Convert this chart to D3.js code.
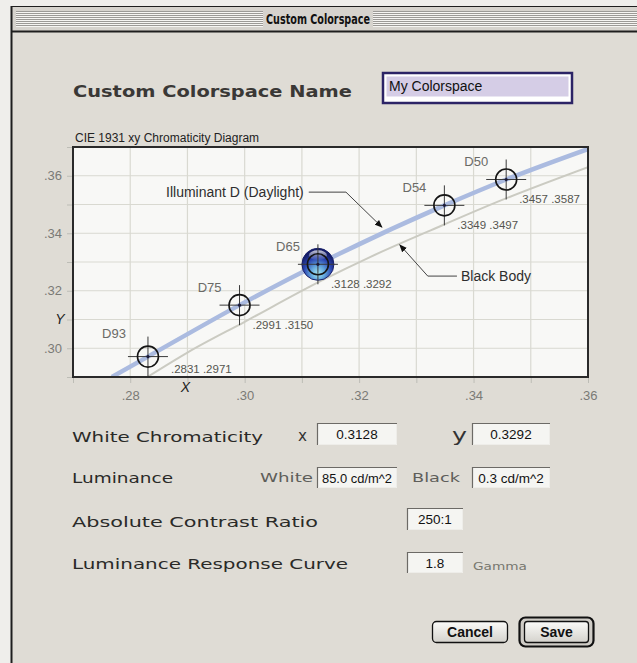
<!DOCTYPE html>
<html><head><meta charset="utf-8">
<script src="https://cdn.jsdelivr.net/npm/d3@7"></script>
<style>
html,body{margin:0;padding:0;background:#efeeeb;}
svg{display:block;}
</style></head><body>
<svg id="c" width="637" height="663"></svg>
<script>
// ---------- data ----------
const illuminantNames = ["D93", "D75", "D65", "D54", "D50"];
const illuminantX = [0.2831, 0.2991, 0.3128, 0.3349, 0.3457];
const illuminantY = [0.2971, 0.3150, 0.3292, 0.3497, 0.3587];
const selectedIlluminant = "D65";

const daylightX = [0.2768, 0.2831, 0.2991, 0.3128, 0.3349, 0.3457, 0.3600];
const daylightY = [0.2900, 0.2971, 0.3150, 0.3292, 0.3497, 0.3587, 0.3693];

const blackBodyX = [0.2830, 0.2900, 0.3000, 0.3135, 0.3220, 0.3325, 0.3450, 0.3600];
const blackBodyY = [0.2900, 0.2985, 0.3092, 0.3236, 0.3318, 0.3410, 0.3516, 0.3630];

const xDomain = [0.27, 0.36];
const yDomain = [0.29, 0.37];
const xTickValues = [0.28, 0.30, 0.32, 0.34, 0.36];
const yTickValues = [0.30, 0.32, 0.34, 0.36];
const xAxisLabel = "X";
const yAxisLabel = "Y";

const windowTitle = "Custom Colorspace";
const nameLabel = "Custom Colorspace Name";
const nameValue = "My Colorspace";
const chartTitle = "CIE 1931 xy Chromaticity Diagram";
const daylightLabel = "Illuminant D (Daylight)";
const blackBodyLabel = "Black Body";
// annotation leader paths in data coordinates: [text end, elbow, arrow tip]
const daylightLeader = [[0.3112, 0.3543], [0.3177, 0.3543], [0.3240, 0.3421]];
const blackBodyLeader = [[0.3371, 0.3251], [0.3320, 0.3251], [0.3271, 0.3360]];

const fieldLabels = ["White Chromaticity", "Luminance", "Absolute Contrast Ratio", "Luminance Response Curve"];
const fieldValues = ["0.3128", "0.3292", "85.0 cd/m^2", "0.3 cd/m^2", "250:1", "1.8"];
const subLabels = ["x", "y", "White", "Black", "Gamma"];
const buttonLabels = ["Cancel", "Save"];

// ---------- drawing ----------
const W = 637, H = 663;
const svg = d3.select("#c");
const defs = svg.append("defs");

svg.append("rect").attr("width", W).attr("height", H).attr("fill", "#efeeeb");
svg.append("rect").attr("x", 12).attr("y", 6).attr("width", W - 12).attr("height", H - 6).attr("fill", "#dfdcd5");

// title bar
svg.append("rect").attr("x", 12).attr("y", 7).attr("width", W - 12).attr("height", 24).attr("fill", "#d6d3cd");
const stripeYs = d3.range(0, 8).map(i => 11 + i * 2);
[[16, 263], [373, W]].forEach(([a, b]) => {
  stripeYs.forEach(sy => {
    svg.append("line").attr("x1", a).attr("x2", b).attr("y1", sy + 0.5).attr("y2", sy + 0.5).attr("stroke", "#9c9a96").attr("stroke-width", 1);
    svg.append("line").attr("x1", a).attr("x2", b).attr("y1", sy + 1.5).attr("y2", sy + 1.5).attr("stroke", "#f6f5f2").attr("stroke-width", 1);
  });
});
svg.append("text").attr("x", 318).attr("y", 24).attr("text-anchor", "middle")
  .attr("font-family", "'DejaVu Sans Condensed','DejaVu Sans',sans-serif").attr("font-weight", "bold")
  .attr("font-size", 14).attr("fill", "#111").attr("textLength", 104).attr("lengthAdjust", "spacingAndGlyphs")
  .text(windowTitle);
svg.append("line").attr("x1", 11).attr("x2", W).attr("y1", 6.5).attr("y2", 6.5).attr("stroke", "#1e1e1e");
svg.append("line").attr("x1", 11).attr("x2", W).attr("y1", 31.5).attr("y2", 31.5).attr("stroke", "#1e1e1e").attr("stroke-width", 2);
svg.append("line").attr("x1", 11.5).attr("x2", 11.5).attr("y1", 6).attr("y2", H).attr("stroke", "#1e1e1e").attr("stroke-width", 2);

// name heading
svg.append("text").attr("x", 73).attr("y", 97).attr("font-family", "'DejaVu Sans',sans-serif")
  .attr("font-weight", "bold").attr("font-size", 15).attr("fill", "#3a3836")
  .attr("textLength", 279).attr("lengthAdjust", "spacingAndGlyphs").text(nameLabel);

// name field
svg.append("rect").attr("x", 383).attr("y", 73).attr("width", 189).attr("height", 30)
  .attr("fill", "#ffffff").attr("stroke", "#2c2466").attr("stroke-width", 2.5);
svg.append("rect").attr("x", 386.5).attr("y", 76.5).attr("width", 182).attr("height", 20).attr("fill", "#d5cde6");
svg.append("text").attr("x", 389).attr("y", 90.5).attr("font-family", "'Liberation Sans',Arial,sans-serif")
  .attr("font-size", 14).attr("fill", "#111").text(nameValue);

// chart title
svg.append("text").attr("x", 75).attr("y", 142).attr("font-family", "'Liberation Sans',Arial,sans-serif")
  .attr("font-size", 12).attr("fill", "#222").text(chartTitle);

// scales
const L = 73, R = 588, T = 147, B = 377;
const x = d3.scaleLinear().domain(xDomain).range([L, R]);
const y = d3.scaleLinear().domain(yDomain).range([B, T]);

svg.append("rect").attr("x", L).attr("y", T).attr("width", R - L).attr("height", B - T).attr("fill", "#f8f8f6");

// grid
const gridG = svg.append("g");
x.ticks(9).filter(v => x(v) > L + 1 && x(v) < R - 1).forEach(v => {
  gridG.append("line").attr("x1", x(v)).attr("x2", x(v)).attr("y1", T).attr("y2", B).attr("stroke", "#d9d9d1").attr("stroke-width", 1.2);
});
y.ticks(8).filter(v => y(v) > T + 1 && y(v) < B - 1).forEach(v => {
  gridG.append("line").attr("x1", L).attr("x2", R).attr("y1", y(v)).attr("y2", y(v)).attr("stroke", "#d9d9d1").attr("stroke-width", 1.2);
});

// small outside ticks
const tickBot = svg.append("g").attr("transform", `translate(0,${B})`)
  .call(d3.axisBottom(x).ticks(9).tickSize(6).tickFormat(""));
tickBot.select(".domain").remove();
tickBot.selectAll("line").attr("stroke", "#bdbdb6");
const tickLeft = svg.append("g").attr("transform", `translate(${L},0)`)
  .call(d3.axisLeft(y).ticks(8).tickSize(6).tickFormat(""));
tickLeft.select(".domain").remove();
tickLeft.selectAll("line").attr("stroke", "#bdbdb6");

// tick labels
const fmt = v => d3.format(".2f")(v).slice(1);
const xLab = svg.append("g").attr("transform", `translate(0,${B})`)
  .call(d3.axisBottom(x).tickValues(xTickValues).tickSize(0).tickPadding(14).tickFormat(fmt));
xLab.select(".domain").remove();
xLab.selectAll("text").attr("font-family", "'Liberation Sans',Arial,sans-serif").attr("font-size", 13).attr("fill", "#7a7a76");
const yLab = svg.append("g").attr("transform", `translate(${L},0)`)
  .call(d3.axisLeft(y).tickValues(yTickValues).tickSize(0).tickPadding(11).tickFormat(fmt));
yLab.select(".domain").remove();
yLab.selectAll("text").attr("font-family", "'Liberation Sans',Arial,sans-serif").attr("font-size", 13).attr("fill", "#7a7a76");

svg.append("text").attr("x", x(0.29) - 2).attr("y", B + 15).attr("text-anchor", "middle")
  .attr("font-family", "'Liberation Sans',Arial,sans-serif").attr("font-style", "italic").attr("font-size", 14).attr("fill", "#222").text(xAxisLabel);
svg.append("text").attr("x", L - 13).attr("y", y(0.31) + 4).attr("text-anchor", "middle")
  .attr("font-family", "'Liberation Sans',Arial,sans-serif").attr("font-style", "italic").attr("font-size", 14).attr("fill", "#222").text(yAxisLabel);

// clip
defs.append("clipPath").attr("id", "plotClip").append("rect").attr("x", L).attr("y", T).attr("width", R - L).attr("height", B - T);

const line = d3.line().x(d => x(d[0])).y(d => y(d[1])).curve(d3.curveMonotoneX);
const curves = svg.append("g").attr("clip-path", "url(#plotClip)");
curves.append("path").attr("d", line(blackBodyX.map((v, i) => [v, blackBodyY[i]])))
  .attr("fill", "none").attr("stroke", "#cbcbc2").attr("stroke-width", 2);
curves.append("path").attr("d", line(daylightX.map((v, i) => [v, daylightY[i]])))
  .attr("fill", "none").attr("stroke", "#abbbe0").attr("stroke-width", 4.5);

// sphere gradient
const grad = defs.append("radialGradient").attr("id", "sphere").attr("cx", "50%").attr("cy", "72%").attr("r", "62%").attr("fx", "50%").attr("fy", "80%");
grad.append("stop").attr("offset", "0%").attr("stop-color", "#a8eaf2");
grad.append("stop").attr("offset", "35%").attr("stop-color", "#62a6dc");
grad.append("stop").attr("offset", "70%").attr("stop-color", "#2b45b0");
grad.append("stop").attr("offset", "100%").attr("stop-color", "#141c66");
const hl = defs.append("linearGradient").attr("id", "hl").attr("x1", 0).attr("y1", 0).attr("x2", 0).attr("y2", 1);
hl.append("stop").attr("offset", "0%").attr("stop-color", "#ffffff").attr("stop-opacity", 0.75);
hl.append("stop").attr("offset", "100%").attr("stop-color", "#ffffff").attr("stop-opacity", 0);

// markers
const marks = svg.append("g");
illuminantNames.forEach((name, i) => {
  const cx = x(illuminantX[i]), cy = y(illuminantY[i]);
  const g = marks.append("g").attr("transform", `translate(${cx},${cy})`);
  if (name === selectedIlluminant) {
    g.append("circle").attr("r", 16).attr("fill", "url(#sphere)").attr("stroke", "#19206a").attr("stroke-width", 1);
    g.append("ellipse").attr("cx", 0).attr("cy", -9).attr("rx", 9).attr("ry", 5).attr("fill", "url(#hl)");
  }
  g.append("line").attr("x1", -20).attr("x2", 20).attr("y1", 0).attr("y2", 0).attr("stroke", "#3a3a3a").attr("stroke-width", 1);
  g.append("line").attr("x1", 0).attr("x2", 0).attr("y1", -20).attr("y2", 20).attr("stroke", "#3a3a3a").attr("stroke-width", 1);
  g.append("circle").attr("r", 10.5).attr("fill", "none").attr("stroke", "#151515").attr("stroke-width", 1.6);
  g.append("circle").attr("r", 1.6).attr("fill", "#1a1a3a");
  // name label
  marks.append("text").attr("x", cx - (i === 0 ? 22 : 18)).attr("y", cy - (i === 0 ? 19 : 13))
    .attr("text-anchor", "end").attr("font-family", "'Liberation Sans',Arial,sans-serif")
    .attr("font-size", 13).attr("fill", "#6a6a66").text(name);
  // value label
  const vt = d3.format(".4f")(illuminantX[i]).slice(1) + " " + d3.format(".4f")(illuminantY[i]).slice(1);
  marks.append("text").attr("x", cx + (i === 0 ? 23 : 13)).attr("y", cy + (i === 0 ? 16 : 24))
    .attr("font-family", "'Liberation Sans',Arial,sans-serif")
    .attr("font-size", 11.5).attr("fill", "#55554f").text(vt);
});

// annotations
defs.append("marker").attr("id", "arrow").attr("viewBox", "0 0 10 10").attr("refX", 9).attr("refY", 5)
  .attr("markerWidth", 8).attr("markerHeight", 8).attr("markerUnits", "userSpaceOnUse").attr("orient", "auto")
  .append("path").attr("d", "M0,1 L10,5 L0,9 Z").attr("fill", "#111");
const leaderLine = d3.line().x(d => x(d[0])).y(d => y(d[1]));
[daylightLeader, blackBodyLeader].forEach(p => {
  svg.append("path").attr("d", leaderLine(p)).attr("fill", "none").attr("stroke", "#444").attr("stroke-width", 1)
    .attr("marker-end", "url(#arrow)");
});
svg.append("text").attr("x", x(daylightLeader[0][0]) - 5).attr("y", y(daylightLeader[0][1]) + 5)
  .attr("text-anchor", "end").attr("font-family", "'Liberation Sans',Arial,sans-serif").attr("font-size", 14)
  .attr("fill", "#2e2e2e").text(daylightLabel);
svg.append("text").attr("x", x(blackBodyLeader[0][0]) + 4).attr("y", y(blackBodyLeader[0][1]) + 5)
  .attr("font-family", "'Liberation Sans',Arial,sans-serif").attr("font-size", 14)
  .attr("fill", "#2e2e2e").text(blackBodyLabel);

// plot frame
svg.append("rect").attr("x", L).attr("y", T).attr("width", R - L).attr("height", B - T)
  .attr("fill", "none").attr("stroke", "#2a2a2a").attr("stroke-width", 2);

// ---------- form ----------
const wideFont = "'DejaVu Sans',sans-serif";
const labelRows = [
  {t: fieldLabels[0], y: 442, w: 191},
  {t: fieldLabels[1], y: 483, w: 101},
  {t: fieldLabels[2], y: 527, w: 246},
  {t: fieldLabels[3], y: 569, w: 276}
];
labelRows.forEach(r => {
  svg.append("text").attr("x", 72).attr("y", r.y).attr("font-family", wideFont).attr("font-size", 14)
    .attr("fill", "#2a2a28").attr("textLength", r.w).attr("lengthAdjust", "spacingAndGlyphs").text(r.t);
});
const subs = [
  {t: subLabels[0], x: 298, y: 441, w: 9, s: 15, c: "#333"},
  {t: subLabels[1], x: 452, y: 441, w: 15, s: 17, c: "#333"},
  {t: subLabels[2], x: 260, y: 482, w: 53, s: 13, c: "#5e5e5a"},
  {t: subLabels[3], x: 412, y: 482, w: 48, s: 13, c: "#5e5e5a"},
  {t: subLabels[4], x: 473, y: 570, w: 54, s: 10, c: "#77776f"}
];
subs.forEach(r => {
  svg.append("text").attr("x", r.x).attr("y", r.y).attr("font-family", wideFont).attr("font-size", r.s)
    .attr("fill", r.c).attr("textLength", r.w).attr("lengthAdjust", "spacingAndGlyphs").text(r.t);
});

const boxes = [
  {v: fieldValues[0], x: 317, y: 423, w: 80, h: 22},
  {v: fieldValues[1], x: 472, y: 423, w: 78, h: 22},
  {v: fieldValues[2], x: 317, y: 467, w: 80, h: 21},
  {v: fieldValues[3], x: 472, y: 467, w: 78, h: 21},
  {v: fieldValues[4], x: 407, y: 508, w: 56, h: 22},
  {v: fieldValues[5], x: 407, y: 552, w: 56, h: 21}
];
boxes.forEach(b => {
  svg.append("rect").attr("x", b.x).attr("y", b.y).attr("width", b.w).attr("height", b.h).attr("fill", "#f5f5f2");
  svg.append("path").attr("d", `M${b.x + 0.5},${b.y + b.h} V${b.y + 0.5} H${b.x + b.w}`).attr("fill", "none").attr("stroke", "#6c6a66").attr("stroke-width", 1.2);
  svg.append("path").attr("d", `M${b.x + 1},${b.y + b.h - 0.5} H${b.x + b.w - 0.5} V${b.y + 1}`).attr("fill", "none").attr("stroke", "#eeede9").attr("stroke-width", 1);
  const t = svg.append("text").attr("x", b.x + b.w / 2).attr("y", b.y + b.h / 2 + 5).attr("text-anchor", "middle")
    .attr("font-family", "'Liberation Sans Narrow','Liberation Sans',Arial,sans-serif").attr("font-size", 13.5)
    .attr("fill", "#111").text(b.v);
  const len = t.node().getComputedTextLength();
  if (len > b.w - 10) t.attr("textLength", b.w - 10).attr("lengthAdjust", "spacingAndGlyphs");
});

// buttons
const bg = defs.append("linearGradient").attr("id", "btn").attr("x1", 0).attr("y1", 0).attr("x2", 0).attr("y2", 1);
bg.append("stop").attr("offset", "0%").attr("stop-color", "#fbfbf9");
bg.append("stop").attr("offset", "100%").attr("stop-color", "#d4d2cc");
svg.append("rect").attr("x", 432.5).attr("y", 621.5).attr("width", 75).attr("height", 21).attr("rx", 4)
  .attr("fill", "url(#btn)").attr("stroke", "#111").attr("stroke-width", 1.3);
svg.append("rect").attr("x", 519.5).attr("y", 617.5).attr("width", 74).attr("height", 29).attr("rx", 6)
  .attr("fill", "#cfccc6").attr("stroke", "#111").attr("stroke-width", 2.2);
svg.append("rect").attr("x", 524.5).attr("y", 621.5).attr("width", 64).attr("height", 21).attr("rx", 3)
  .attr("fill", "url(#btn)").attr("stroke", "#111").attr("stroke-width", 1.3);
svg.append("text").attr("x", 470).attr("y", 637).attr("text-anchor", "middle").attr("font-family", "'Liberation Sans',Arial,sans-serif")
  .attr("font-weight", "bold").attr("font-size", 14).attr("fill", "#111").text(buttonLabels[0]);
svg.append("text").attr("x", 556.5).attr("y", 637).attr("text-anchor", "middle").attr("font-family", "'Liberation Sans',Arial,sans-serif")
  .attr("font-weight", "bold").attr("font-size", 14).attr("fill", "#111").text(buttonLabels[1]);
</script>
</body></html>
